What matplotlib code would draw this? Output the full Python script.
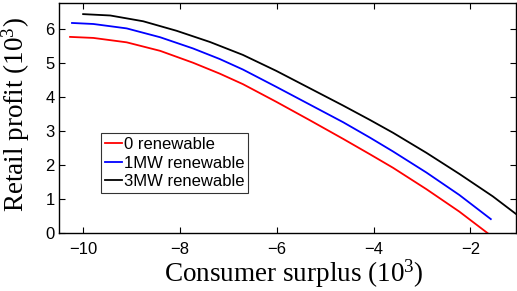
import matplotlib
matplotlib.use("Agg")
import matplotlib.pyplot as plt

plt.rcParams['font.family'] = ['Liberation Sans', 'DejaVu Sans']
plt.rcParams['mathtext.fontset'] = 'custom'
plt.rcParams['mathtext.rm'] = 'Liberation Serif'
plt.rcParams['mathtext.it'] = 'Liberation Serif:italic'

# Data (units of 10^3)
red_x = [-10.27, -9.79, -9.10, -8.41, -7.73, -7.18, -6.70, -6.01, -5.32, -4.63, -4.08, -3.60, -2.91, -2.23, -1.64]
red_y = [5.78, 5.75, 5.62, 5.37, 5.02, 4.70, 4.39, 3.87, 3.33, 2.78, 2.33, 1.93, 1.30, 0.64, 0.0]

blue_x = [-10.23, -9.79, -9.10, -8.41, -7.73, -7.18, -6.70, -6.01, -5.32, -4.63, -4.08, -3.60, -2.91, -2.23, -1.58]
blue_y = [6.19, 6.16, 6.03, 5.77, 5.44, 5.13, 4.82, 4.31, 3.79, 3.27, 2.82, 2.41, 1.79, 1.13, 0.42]

black_x = [-10.0, -9.44, -8.76, -8.07, -7.38, -6.70, -6.01, -5.32, -4.63, -4.08, -3.60, -2.91, -2.23, -1.54, -1.05]
black_y = [6.45, 6.41, 6.24, 5.96, 5.63, 5.25, 4.78, 4.27, 3.76, 3.34, 2.96, 2.37, 1.75, 1.09, 0.56]

labels = ['0 renewable', '1MW renewable', '3MW renewable']
xticks = [-10, -8, -6, -4, -2]
yticks = [0, 1, 2, 3, 4, 5, 6]

fig = plt.figure(figsize=(5.17, 2.91), dpi=100)
ax = fig.add_axes([0.114, 0.198, 0.885, 0.792])

ax.plot(red_x, red_y, color='#ff0000', lw=1.3, label=labels[0])
ax.plot(blue_x, blue_y, color='#0000ff', lw=1.3, label=labels[1])
ax.plot(black_x, black_y, color='#000000', lw=1.3, label=labels[2])

ax.set_xlim(-10.5, -1.05)
ax.set_ylim(0, 6.78)
ax.set_xticks(xticks)
ax.set_yticks(yticks)
ax.tick_params(direction='in', top=True, right=True, length=4, width=0.8,
               labelsize=12)
ax.tick_params(axis='x', pad=6)
ax.tick_params(axis='y', pad=3)
for s in ax.spines.values():
    s.set_linewidth(1.0)

ax.set_xlabel(r'Consumer surplus (10$^3$)', family='Liberation Serif', fontsize=19.5)
ax.xaxis.set_label_coords(0.513, -0.105)
ax.set_ylabel(r'Retail profit (10$^3$)', family='Liberation Serif', fontsize=19.5)
ax.yaxis.set_label_coords(-0.058, 0.515)

leg = ax.legend(loc='lower left', bbox_to_anchor=(0.092, 0.175), borderaxespad=0,
                fontsize=12, frameon=True, fancybox=False, handlelength=1.0,
                handletextpad=0.1, borderpad=0.25, labelspacing=0.2)
leg.get_frame().set_edgecolor('black')
leg.get_frame().set_linewidth(0.8)

fig.savefig('out.png', dpi=100)
